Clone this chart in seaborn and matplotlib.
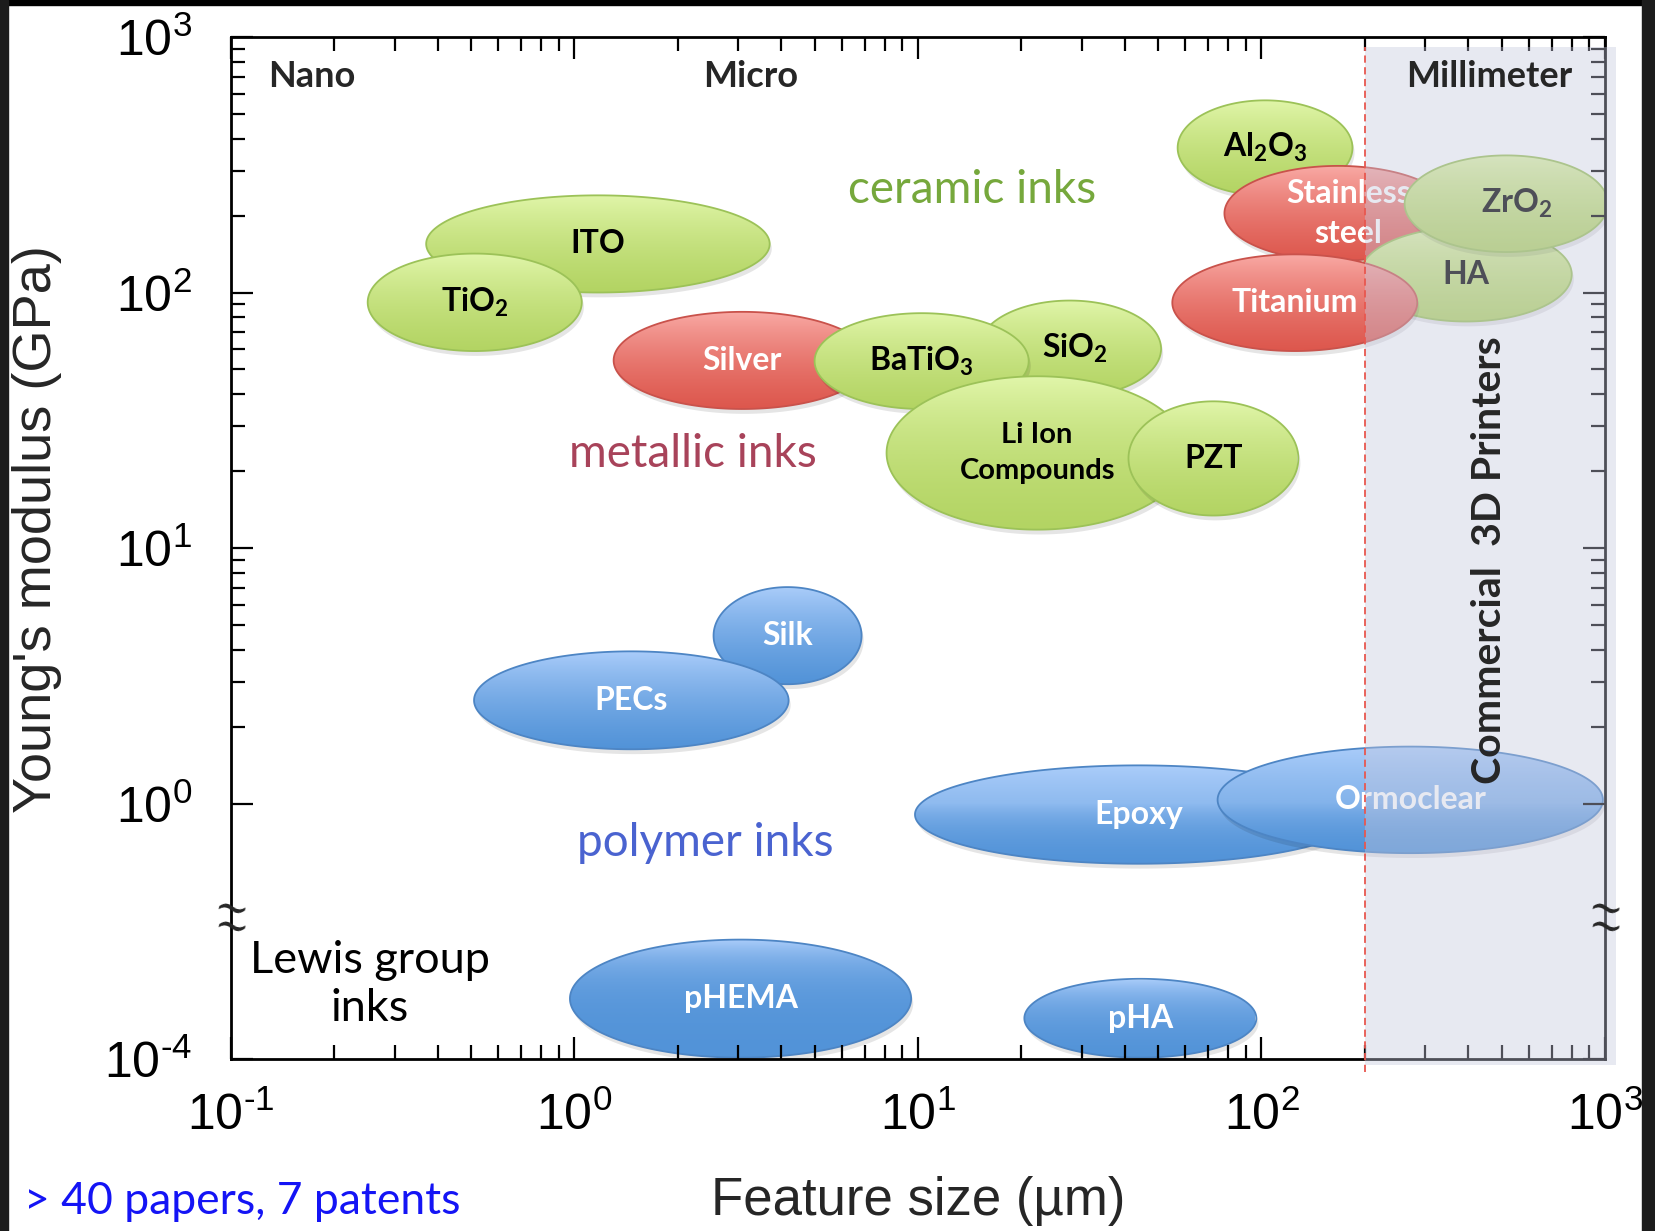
import numpy as np
import pandas as pd
import matplotlib
matplotlib.use('Agg')
import matplotlib.pyplot as plt
import seaborn as sns
from matplotlib.transforms import ScaledTranslation
from matplotlib.colors import LinearSegmentedColormap
from matplotlib.patches import Rectangle
from matplotlib.ticker import NullFormatter

# ink classes, drawn in this order (later ones sit on top)
names = ['ITO', 'TiO$_2$', 'Silver', 'SiO$_2$', 'BaTiO$_3$', 'Li Ion\nCompounds', 'PZT',
         'Al$_2$O$_3$', 'Stainless\nsteel', 'HA', 'Titanium', 'ZrO$_2$',
         'Silk', 'PECs', 'Epoxy', 'Ormoclear', 'pHEMA', 'pHA']
kinds = ['ceramic', 'ceramic', 'metal', 'ceramic', 'ceramic', 'ceramic', 'ceramic',
         'ceramic', 'metal', 'ceramic', 'metal', 'ceramic',
         'polymer', 'polymer', 'polymer', 'polymer', 'polymer', 'polymer']
# feature size range (um)
size_lo = [0.37, 0.25, 1.3, 15, 5.0, 8.1, 41, 57, 78, 194, 55, 261, 2.54, 0.51, 9.8, 74.5, 0.97, 20.4]
size_hi = [3.7, 1.05, 7.3, 51, 21, 61, 128, 184, 358, 800, 284, 1020, 6.85, 4.2, 196, 986, 9.55, 96.6]
# Young's modulus range (GPa)
mod_lo = [100, 59, 35, 39, 35, 11.8, 13.4, 240, 133, 77, 59, 144, 2.93, 1.63, 0.114, 0.167, 1.05e-4, 1.05e-4]
mod_hi = [240, 142, 84, 93, 83, 47, 37.5, 565, 313, 180, 141, 344, 7.03, 3.94, 1.41, 1.67, 7.4e-3, 1.8e-3]

x_ticks = [0.1, 1, 10, 100, 1000]
x_ticklabels = ['$10^{\u20101}$', '$10^{0}$', '$10^{1}$', '$10^{2}$', '$10^{3}$']
y_ticks = [1e-4, 1, 10, 100, 1000]
y_ticklabels = ['$10^{\u20104}$', '$10^{0}$', '$10^{1}$', '$10^{2}$', '$10^{3}$']
printer_min = 200  # um, where commercial 3D printers start

# small sideways nudges of a few labels (decades of feature size)
label_nudge = {'Stainless\nsteel': 0.03, 'ZrO$_2$': 0.03, 'SiO$_2$': 0.015}

sns.set_style('ticks')
plt.rcParams['font.family'] = ['Lato', 'DejaVu Sans']
plt.rcParams['mathtext.default'] = 'regular'
plt.rcParams['axes.edgecolor'] = 'black'
plt.rcParams['xtick.color'] = 'black'
plt.rcParams['ytick.color'] = 'black'

TICKFONT = ['Liberation Sans Narrow', 'Liberation Sans', 'DejaVu Sans']

colors = {
    'ceramic': ('#b3d463', '#e1f6aa', '#9cc258', 'black'),
    'metal': ('#dd574d', '#f9aaa5', '#c9524b', 'white'),
    'polymer': ('#5293d8', '#abcdfa', '#4d85c4', 'white'),
}


# y axis is broken: decades above 1 GPa, and 1e-4..1 squeezed into one decade
def fwd(v):
    v = np.log10(np.clip(np.asarray(v, dtype=float), 1e-12, None))
    return np.where(v >= 0, v, v / 4)


def inv(p):
    p = np.asarray(p, dtype=float)
    return np.where(p >= 0, 10.0 ** p, 10.0 ** (4 * p))


df = pd.DataFrame(dict(label=names, kind=kinds, x0=size_lo, x1=size_hi, y0=mod_lo, y1=mod_hi))

fig = plt.figure(figsize=(16.56, 12.31), dpi=100)
ax = fig.add_axes([231 / 1656, 1 - 1059 / 1231, 1374 / 1656, 1022 / 1231])
ax.set_xscale('log')
ax.set_yscale('function', functions=(fwd, inv))

t = np.linspace(0, 2 * np.pi, 300)
grad = np.linspace(1, 0, 256).reshape(-1, 1)
shadow = ax.transData + ScaledTranslation(1.5 / 72, -3.5 / 72, fig.dpi_scale_trans)

for i, r in df.iterrows():
    z = 1.0 + 0.07 * i
    dark, light, edge, tcol = colors[r['kind']]
    cmap = LinearSegmentedColormap.from_list('g', [dark, light])
    lx0, lx1 = np.log10([r['x0'], r['x1']])
    ly0, ly1 = fwd([r['y0'], r['y1']])
    cx, hx = (lx0 + lx1) / 2, (lx1 - lx0) / 2
    cy, hy = (ly0 + ly1) / 2, (ly1 - ly0) / 2
    px = 10 ** (cx + hx * np.cos(t))
    py = inv(cy + hy * np.sin(t))
    ax.fill(px, py, color='black', alpha=0.10, lw=0, transform=shadow, zorder=z)
    poly, = ax.fill(px, py, facecolor='none', edgecolor=edge, lw=1.3, zorder=z + 0.03)
    im = ax.imshow(grad, cmap=cmap, extent=(r['x0'], r['x1'], r['y0'], r['y1']), aspect='auto',
                   interpolation='bilinear', zorder=z + 0.02)
    im.set_clip_path(poly)
    multi = '\n' in r['label']
    fs = 21 if 'Compounds' in r['label'] else 23
    tx = 10 ** (cx + label_nudge.get(r['label'], 0))
    ax.text(tx, float(inv(cy)), r['label'], ha='center', va='center', color=tcol,
            fontsize=fs, fontweight='bold', linespacing=1.45 if multi else 1.2,
            zorder=z + 0.04)

# commercial printer window
ax.axvspan(printer_min, 1075, ymin=-0.006, ymax=0.99, facecolor='#c5c8de', alpha=0.4,
           lw=0, zorder=10, clip_on=False)
ax.axvline(printer_min, ymin=-0.013, ymax=0.99, color='#e8574f', lw=1.3,
           ls=(0, (4, 2.5)), zorder=11, clip_on=False)

ax.set_xlim(0.1, 1000)
ax.set_ylim(1e-4, 1000)
ax.set_axisbelow(False)

ax.set_xticks(x_ticks, x_ticklabels)
ax.xaxis.set_minor_formatter(NullFormatter())
ax.set_yticks(y_ticks, y_ticklabels)
ax.set_yticks([k * 10 ** d for d in range(0, 3) for k in range(2, 10)], minor=True)
ax.tick_params(which='both', direction='in', top=True, right=True, width=1.6)
ax.tick_params(which='major', length=16, labelsize=36)
ax.tick_params(which='minor', length=10)
ax.tick_params(axis='x', which='major', pad=24)
ax.tick_params(axis='y', which='major', pad=28)
for lab in ax.get_xticklabels() + ax.get_yticklabels():
    lab.set_family(TICKFONT)
for s in ax.spines.values():
    s.set_linewidth(2.0)

# axis break marks: two slanted tildes on each side spine
for xb in (0, 1):
    for dy in (9, -9):
        off = ScaledTranslation(0, dy / 100, fig.dpi_scale_trans)
        ax.text(xb, 0.137, '~', transform=ax.transAxes + off, ha='center', va='center',
                fontsize=30, family='DejaVu Serif', rotation=-12, clip_on=False, zorder=12)

# region labels
for txt, xa in [('Nano', 0.059), ('Micro', 0.378), ('Millimeter', 0.916)]:
    ax.text(xa, 0.961, txt, transform=ax.transAxes, ha='center', va='center',
            fontsize=26, fontweight='bold', zorder=12)
ax.text(0.916, 0.488, 'Commercial  3D Printers', transform=ax.transAxes, rotation=90,
        ha='center', va='center', fontsize=29.5, fontweight='bold', zorder=12)
ax.text(0.539, 0.850, 'ceramic inks', transform=ax.transAxes, ha='center', va='center',
        fontsize=33, color='#76a83c')
ax.text(0.336, 0.592, 'metallic inks', transform=ax.transAxes, ha='center', va='center',
        fontsize=33, color='#a8435a')
ax.text(0.345, 0.211, 'polymer inks', transform=ax.transAxes, ha='center', va='center',
        fontsize=33, color='#4a63d0')
ax.text(0.101, 0.073, 'Lewis group\ninks', transform=ax.transAxes, ha='center', va='center',
        fontsize=32.5, color='black', linespacing=1.2)

fig.text(37 / 1656, 1 - 529 / 1231, "Young's modulus (GPa)", rotation=90, ha='center',
         va='center', fontsize=39, family=['Liberation Sans', 'DejaVu Sans'])
fig.text(918 / 1656, 1 - 1201 / 1231, 'Feature size (\u00b5m)', ha='center', va='center',
         fontsize=38, family=['Liberation Sans', 'DejaVu Sans'])
fig.text(24 / 1656, 1 - 1202 / 1231, '> 40 papers, 7 patents', ha='left', va='center',
         fontsize=32, color='#1414f5')

# dark frame round the slide
fig.patches.append(Rectangle((0, 1 - 5 / 1231), 1, 5 / 1231, transform=fig.transFigure,
                             color='black', zorder=-1))
fig.patches.append(Rectangle((0, 0), 8 / 1656, 1, transform=fig.transFigure,
                             color='#1c1c1c', zorder=-1))
fig.patches.append(Rectangle((1642 / 1656, 0), 14 / 1656, 1, transform=fig.transFigure,
                             color='#1c1c1c', zorder=-1))

fig.savefig('out.png', dpi=100)
